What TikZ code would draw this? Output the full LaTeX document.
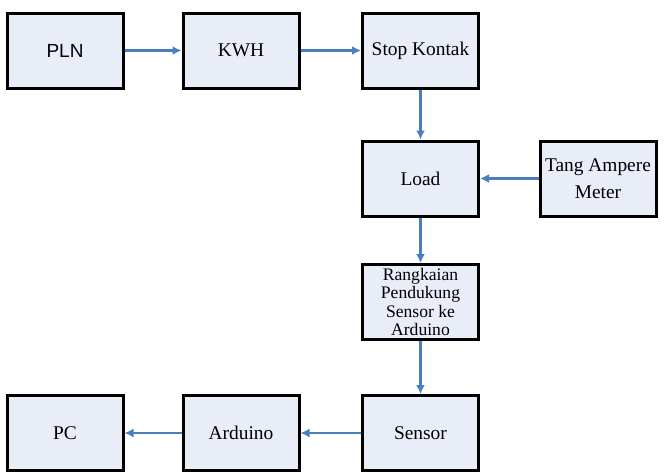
\documentclass[tikz,border=0pt]{standalone}
\usepackage{fontspec}
\setmainfont{Liberation Serif}
\newfontfamily\arialfont{Liberation Sans}
\usetikzlibrary{arrows.meta}
\definecolor{boxfill}{HTML}{E9EDF8}
\definecolor{flowblue}{HTML}{4A7EBF}

\begin{document}
\begin{tikzpicture}[x=0.5pt, y=-0.5pt,
  block/.style={draw=black, line width=1.5pt, fill=boxfill, minimum width=58pt,
    minimum height=37.5pt, inner sep=1pt, align=center, font=\fontsize{9.7}{13.5}\selectfont},
  flow/.style={-{Latex[length=4.5pt,width=4.5pt]}, flowblue, line width=1.2pt}]
\useasboundingbox (0,0) rectangle (666,473);

% ---- top row ----
\node[block, font=\arialfont\fontsize{9.5}{11}\selectfont] (pln) at (65,50.5) {PLN};
\node[block] (kwh) at (241,50.5) {KWH};
\node[block] (stop) at (420.5,50.5) {Stop Kontak};

% ---- middle ----
\node[block] (load) at (420.5,178.5) {Load};
\node[block] (tang) at (598,178.5) {Tang Ampere\\Meter};
\node[block, font=\fontsize{8.8}{9.2}\selectfont] (rangkaian) at (420.5,302) {Rangkaian\\Pendukung\\Sensor ke\\Arduino};

% ---- bottom row ----
\node[block] (sensor) at (420.5,433) {Sensor};
\node[block] (arduino) at (241,433) {Arduino};
\node[block] (pc) at (65,433) {PC};

% Connectors
\draw[flow] (pln) -- (kwh);
\draw[flow] (kwh) -- (stop);
\draw[flow] (stop) -- (load);
\draw[flow] (tang) -- (load);
\draw[flow] (load) -- (rangkaian);
\draw[flow] (rangkaian) -- (sensor);
\draw[flow] (sensor) -- (arduino);
\draw[flow] (arduino) -- (pc);

\end{tikzpicture}
\end{document}
